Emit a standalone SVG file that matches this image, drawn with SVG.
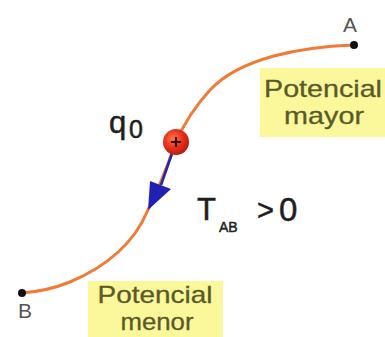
<svg xmlns="http://www.w3.org/2000/svg" width="385" height="337" viewBox="0 0 385 337">
  <style>
    .lbl { font-family: "Liberation Sans", Arial, sans-serif; }
    .pot { font-size: 24px; fill: #5a5a28; text-anchor: middle; stroke: #5a5a28; stroke-width: 0.3; }
    .pt { font-size: 21px; fill: #555555; text-anchor: middle; }
    .dark { fill: #1e1e1e; stroke: #1e1e1e; stroke-width: 0.5; }
    .box { fill: #fbf89c; }
    .curve { fill: none; stroke: #f07a36; stroke-width: 3; stroke-linecap: round; }
    .force { fill: none; stroke: #2626a8; stroke-width: 2.6; }
  </style>
  <defs>
    <radialGradient id="ballGrad" cx="40%" cy="38%" r="65%">
      <stop offset="0" stop-color="#ff7a50"/>
      <stop offset="0.55" stop-color="#e8301a"/>
      <stop offset="1" stop-color="#b41a0c"/>
    </radialGradient>
  </defs>
  <rect width="385" height="337" fill="#ffffff"/>

  <g id="label-mayor">
    <rect class="box" x="260" y="68" width="125" height="69"/>
    <text class="lbl pot" x="323" y="97" textLength="118" lengthAdjust="spacingAndGlyphs">Potencial</text>
    <text class="lbl pot" x="324" y="124" textLength="80" lengthAdjust="spacingAndGlyphs">mayor</text>
  </g>

  <g id="label-menor">
    <rect class="box" x="88" y="281" width="135" height="56"/>
    <text class="lbl pot" x="155" y="303" textLength="115" lengthAdjust="spacingAndGlyphs">Potencial</text>
    <text class="lbl pot" x="157" y="330" textLength="73" lengthAdjust="spacingAndGlyphs">menor</text>
  </g>

  <g id="connectors">
    <path class="curve" d="M354,45 C300,47 240,58 210,90 C190,112 182,128 176,142 C166,170 158,190 147,212 C135,240 110,265 70,282 C50,290 35,292 22,293"/>
    <line class="force" x1="176" y1="142" x2="161" y2="185"/>
    <polygon points="150,181 171,189 148,210" fill="#2020b4"/>
  </g>

  <g id="node-A">
    <circle cx="354" cy="45" r="4" fill="#111111"/>
    <text class="lbl pt" x="350" y="32">A</text>
  </g>

  <g id="node-B">
    <circle cx="22" cy="293" r="4" fill="#111111"/>
    <text class="lbl pt" x="25" y="318">B</text>
  </g>

  <g id="charge">
    <circle cx="176" cy="142" r="13" fill="url(#ballGrad)"/>
    <path d="M176,137 V147 M171,142 H181" stroke="#3a0a05" stroke-width="2.2"/>
    <text class="lbl dark" x="109" y="133" font-size="31">q</text>
    <text class="lbl dark" x="129" y="138" font-size="25">0</text>
  </g>

  <g id="label-T">
    <text class="lbl dark" x="197" y="220" font-size="31">T</text>
    <text class="lbl dark" x="219" y="232" font-size="14">AB</text>
    <text class="lbl dark" x="257" y="220" font-size="29">&gt;</text>
    <text class="lbl dark" x="279" y="221" font-size="33">0</text>
  </g>
</svg>
